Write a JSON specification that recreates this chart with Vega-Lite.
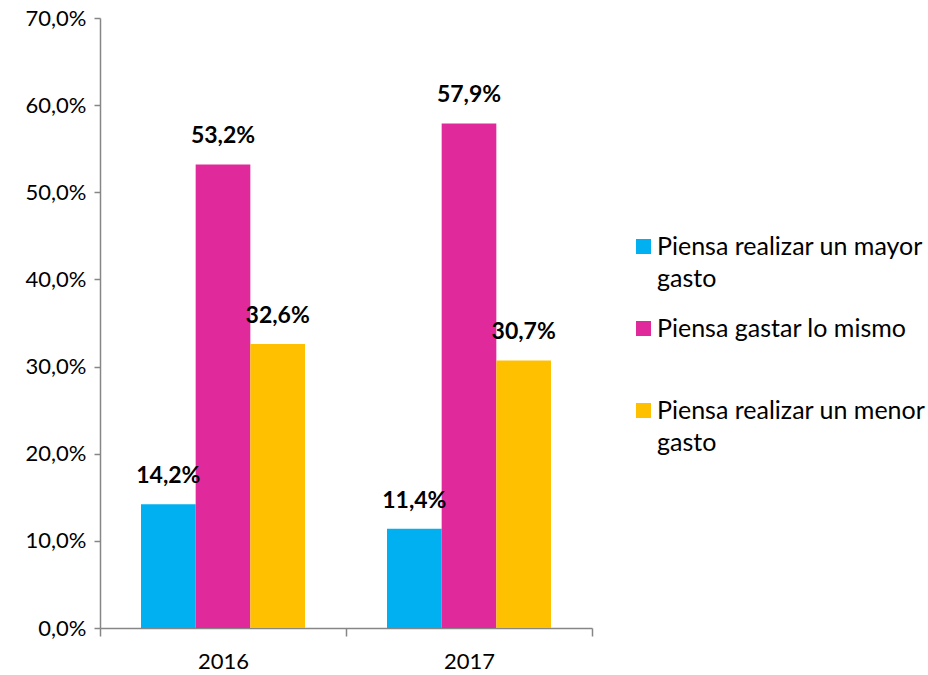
{
  "$schema": "https://vega.github.io/schema/vega-lite/v6.json",
  "width": 492,
  "height": 610,
  "autosize": {"type": "none"},
  "padding": {"left": 100, "top": 18, "right": 336, "bottom": 47},
  "background": "white",
  "config": {
    "font": "Lato",
    "locale": {"number": {"decimal": ",", "thousands": ".", "grouping": [3], "currency": ["", " €"]}},
    "view": {"stroke": null},
    "style": {"guide-label": {"lineHeight": 32}},
    "axis": {"labelFont": "Lato", "labelFontSize": 22, "labelColor": "#000000", "domainColor": "#868686", "tickColor": "#868686", "grid": false, "title": null}
  },
  "data": {
    "values": [
      {"year": "2016", "cat": "Piensa realizar un mayor\ngasto", "value": 0.142},
      {"year": "2016", "cat": "Piensa gastar lo mismo\n ", "value": 0.532},
      {"year": "2016", "cat": "Piensa realizar un menor\ngasto", "value": 0.326},
      {"year": "2017", "cat": "Piensa realizar un mayor\ngasto", "value": 0.114},
      {"year": "2017", "cat": "Piensa gastar lo mismo\n ", "value": 0.579},
      {"year": "2017", "cat": "Piensa realizar un menor\ngasto", "value": 0.307}
    ]
  },
  "encoding": {
    "x": {
      "field": "year", "type": "nominal",
      "scale": {"paddingInner": 0, "paddingOuter": 0},
      "axis": {"labelAngle": 0, "tickBand": "extent", "tickSize": 8, "labelPadding": 15, "domainWidth": 1.5, "tickWidth": 1.5}
    },
    "xOffset": {
      "field": "cat", "type": "nominal",
      "sort": ["Piensa realizar un mayor\ngasto", "Piensa gastar lo mismo\n ", "Piensa realizar un menor\ngasto"],
      "scale": {"paddingInner": 0, "paddingOuter": 0.75}
    },
    "y": {
      "field": "value", "type": "quantitative",
      "scale": {"domain": [0, 0.7]},
      "axis": {"values": [0, 0.1, 0.2, 0.3, 0.4, 0.5, 0.6, 0.7], "format": ".1%", "tickSize": 6, "labelPadding": 8, "domainWidth": 1.5, "tickWidth": 1.5}
    }
  },
  "layer": [
    {
      "mark": {"type": "bar"},
      "encoding": {
        "color": {
          "field": "cat", "type": "nominal",
          "sort": ["Piensa realizar un mayor\ngasto", "Piensa gastar lo mismo\n ", "Piensa realizar un menor\ngasto"],
          "scale": {"range": ["#00B0F0", "#E02A9C", "#FFC000"]},
          "legend": {
            "title": null, "orient": "none", "legendX": 531, "legendY": 216,
            "symbolType": "square", "symbolSize": 225, "symbolStrokeWidth": 0, "symbolOpacity": 1,
            "labelFont": "Lato", "labelFontSize": 25, "labelColor": "#000000", "labelOffset": 1,
            "labelLimit": 400, "rowPadding": 24,
            "labelExpr": "split(datum.label, '\\n')"
          }
        }
      }
    },
    {
      "mark": {"type": "text", "font": "Lato", "fontWeight": "bold", "fontSize": 23, "dy": -28, "baseline": "middle", "color": "#000000"},
      "encoding": {
        "text": {"field": "value", "type": "quantitative", "format": ".1%"}
      }
    }
  ]
}
